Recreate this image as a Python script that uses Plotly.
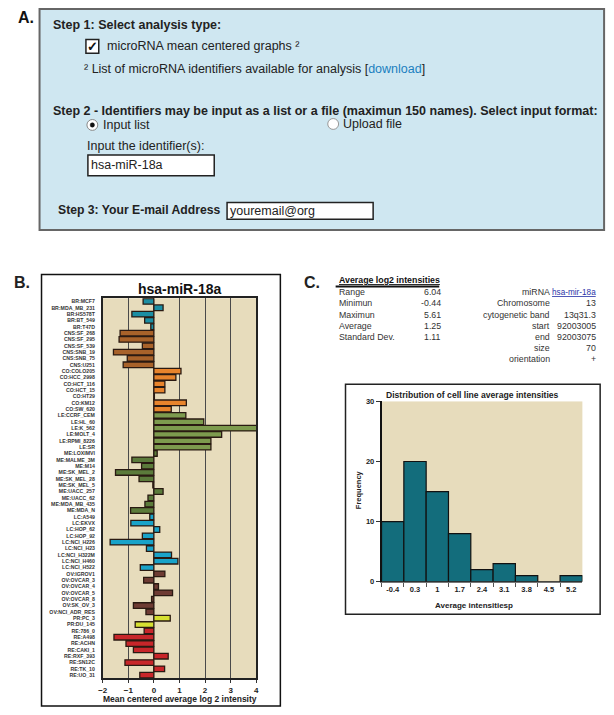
import plotly.graph_objects as go

W, H = 614, 715

# ---------------- data ----------------
cell_lines = [
    "BR:MCF7", "BR:MDA_MB_231", "BR:HS578T", "BR:BT_549", "BR:T47D",
    "CNS:SF_268", "CNS:SF_295", "CNS:SF_539", "CNS:SNB_19", "CNS:SNB_75", "CNS:U251",
    "CO:COLO205", "CO:HCC_2998", "CO:HCT_116", "CO:HCT_15", "CO:HT29", "CO:KM12", "CO:SW_620",
    "LE:CCRF_CEM", "LE:HL_60", "LE:K_562", "LE:MOLT_4", "LE:RPMI_8226", "LE:SR",
    "ME:LOXIMVI", "ME:MALME_3M", "ME:M14", "ME:SK_MEL_2", "ME:SK_MEL_28", "ME:SK_MEL_5",
    "ME:UACC_257", "ME:UACC_62", "ME:MDA_MB_435", "ME:MDA_N",
    "LC:A549", "LC:EKVX", "LC:HOP_62", "LC:HOP_92", "LC:NCI_H226", "LC:NCI_H23",
    "LC:NCI_H322M", "LC:NCI_H460", "LC:NCI_H522",
    "OV:IGROV1", "OV:OVCAR_3", "OV:OVCAR_4", "OV:OVCAR_5", "OV:OVCAR_8", "OV:SK_OV_3", "OV:NCI_ADR_RES",
    "PR:PC_3", "PR:DU_145",
    "RE:786_0", "RE:A498", "RE:ACHN", "RE:CAKI_1", "RE:RXF_393", "RE:SN12C", "RE:TK_10", "RE:UO_31",
]
mean_centered = [
    -0.42, 0.36, -0.86, -0.36, -0.12,
    -1.32, -1.36, -0.45, -1.58, -1.04, -1.20,
    1.06, 0.86, 0.43, 0.43, 0.02, 1.27, 0.68,
    1.25, 1.95, 4.04, 2.65, 2.23, 2.23,
    0.13, -0.86, -0.48, -1.50, -0.58, -0.04,
    0.36, -0.23, -0.35, -0.91,
    -0.16, -0.90, 0.23, -0.45, -1.71, -0.29,
    0.69, 0.94, -0.53,
    0.43, -0.40, 0.18, 0.73, -0.09, -0.80, -0.31,
    0.64, -0.73,
    -0.38, -1.56, -1.09, -0.80, 0.56, -1.13, 0.42, -0.55,
]
group_colors = {
    "BR": "#1b8ea3", "CNS": "#a8622a", "CO": "#e8842c", "LE": "#7d9b4e",
    "ME": "#5b7b3b", "LC": "#19a3c9", "OV": "#6e3b33", "PR": "#d6e031", "RE": "#c8262a",
}

hist_bins = ["-0.4", "0.3", "1", "1.7", "2.4", "3.1", "3.8", "4.5", "5.2"]
hist_freq = [10, 20, 15, 8, 2, 3, 1, 0, 1]

stats_labels = ["Range", "Minimun", "Maximun", "Average", "Standard Dev."]
stats_values = ["6.04", "-0.44", "5.61", "1.25", "1.11"]
info_labels = ["miRNA", "Chromosome", "cytogenetic band", "start", "end", "size", "orientation"]
info_values = ["hsa-mir-18a", "13", "13q31.3", "92003005", "92003075", "70", "+"]

# ---------------- helpers ----------------
def px(x):
    return x / W

def py(y):
    return 1 - y / H

FONT = "Liberation Sans, Arial, sans-serif"
annotations = []
shapes = []

def text(x, y, s, size=12, anchor="left", bold=False, color="#222", yanchor="middle", angle=0):
    # compensate the small inner padding of annotations
    if anchor == "left":
        x -= 3
    elif anchor == "right":
        x += 3
    annotations.append(dict(
        x=px(x), y=py(y), xref="paper", yref="paper", text=s, showarrow=False,
        xanchor=anchor, yanchor=yanchor, textangle=angle,
        font=dict(family=FONT, size=size, color=color, weight="bold" if bold else "normal"),
    ))

def rect(x0, y0, x1, y1, line="#000", lw=1, fill=None, layer="below"):
    d = dict(type="rect", xref="paper", yref="paper",
             x0=px(x0), x1=px(x1), y0=py(y1), y1=py(y0),
             line=dict(color=line, width=lw), layer=layer)
    if fill:
        d["fillcolor"] = fill
    shapes.append(d)

def circle(x0, y0, x1, y1, line="#777", lw=1, fill="white"):
    shapes.append(dict(type="circle", xref="paper", yref="paper",
                       x0=px(x0), x1=px(x1), y0=py(y1), y1=py(y0),
                       line=dict(color=line, width=lw), fillcolor=fill, layer="above"))

# ---------------- panel A ----------------
text(14, 14, "A.", size=16, bold=True, anchor="left", color="#111")
rect(35, 5, 607, 229, line="#666", lw=2, fill="#cfe7f1")
text(50, 21, "Step 1: Select analysis type:", size=12.5, bold=True)
rect(82, 36, 95, 50, line="#222", lw=1.5, fill="white", layer="above")
text(88.5, 43.5, "✓", size=13, bold=True, anchor="center", color="#111")
text(104, 43, "microRNA mean centered graphs ²", size=12.5)
text(81, 66, "² List of microRNA identifiers available for analysis [<span style='color:#1a7fc0'>download</span>]", size=12.5)
text(50, 108, "Step 2 - Identifiers may be input as a list or a file (maximun 150 names). Select input format:", size=12.5, bold=True)
circle(83, 117, 94, 128, line="#888", fill="white")
circle(86.3, 120.3, 90.7, 124.7, line="#111", lw=0.5, fill="#111")
text(100, 123, "Input list", size=12.5)
circle(327, 116, 338, 127, line="#999", fill="white")
text(343, 122, "Upload file", size=12.5)
text(84, 144, "Input the identifier(s):", size=12.5)
rect(84, 153, 212, 174, line="#222", lw=1.5, fill="white", layer="above")
text(88, 163, "hsa-miR-18a", size=12.5)
text(55, 209, "Step 3: Your E-mail Address", size=12.2, bold=True)
rect(225, 201, 373, 218, line="#222", lw=1.5, fill="white", layer="above")
text(229, 210, "youremail@org", size=12.5)

# ---------------- panel B ----------------
text(10, 282, "B.", size=16, bold=True)
rect(37, 274, 279, 711, line="#111", lw=1.5)
text(177, 289, "hsa-miR-18a", size=14, bold=True, anchor="center", color="#111")
text(177, 704, "Mean centered average log 2 intensity", size=8.5, bold=True, anchor="center", color="#222")

bar_colors = [group_colors[c.split(":")[0]] for c in cell_lines]

fig = go.Figure()
fig.add_trace(go.Bar(
    x=mean_centered, y=cell_lines, orientation="h",
    marker=dict(color=bar_colors, line=dict(color="#2a1a12", width=1.3)),
    xaxis="x", yaxis="y", showlegend=False,
))

# ---------------- panel C ----------------
text(304, 282, "C.", size=16, bold=True)
text(339, 280, "<u>Average log2 intensities</u>", size=8.8, bold=True, color="#111")
shapes.append(dict(type="line", xref="paper", yref="paper", x0=px(335), x1=px(440),
                   y0=py(286), y1=py(286), line=dict(color="#111", width=2)))
for i, (lab, val) in enumerate(zip(stats_labels, stats_values)):
    yy = 292 + 11.25 * i
    text(339, yy, lab, size=8.8, color="#333")
    text(441, yy, val, size=8.8, color="#333", anchor="right")
for i, (lab, val) in enumerate(zip(info_labels, info_values)):
    yy = 292 + 11.25 * i
    text(551, yy, lab, size=8.8, color="#333", anchor="right")
    if i == 0:
        text(598, yy, "<u>" + val + "</u>", size=8.2, color="#2a35a8", anchor="right")
    else:
        text(598, yy, val, size=8.8, color="#333", anchor="right")

rect(345, 385, 603, 618, line="#222", lw=1.5)
text(474, 396, "Distribution of cell line average intensities", size=8.6, bold=True, anchor="center", color="#222")
text(358, 492, "Frequency", size=7.5, bold=True, anchor="center", angle=-90, color="#222")
text(475, 609, "Average intensitiesp", size=8, bold=True, anchor="center", color="#222")

fig.add_trace(go.Bar(
    x=hist_bins, y=hist_freq, width=1.0,
    marker=dict(color="#136d7c", line=dict(color="#111", width=1.2)),
    xaxis="x2", yaxis="y2", showlegend=False,
))

TAN = "#e7dcbc"
fig.update_layout(
    width=W, height=H, margin=dict(l=0, r=0, t=0, b=0),
    paper_bgcolor="white", plot_bgcolor=TAN,
    bargap=0.12,
    xaxis=dict(domain=[px(99), px(254.5)], range=[-2, 4], tickvals=[-2, -1, 0, 1, 2, 3, 4],
               showgrid=True, gridcolor="#4a4a4a", gridwidth=1, zeroline=False,
               showline=True, linecolor="#222", linewidth=1.5, mirror=True,
               ticks="outside", ticklen=3, tickcolor="#333",
               tickfont=dict(family=FONT, size=8, weight="bold", color="#222"), anchor="y"),
    yaxis=dict(domain=[py(683), py(298)], type="category", categoryorder="array",
               categoryarray=cell_lines, autorange="reversed",
               showline=True, linecolor="#222", linewidth=1.5, mirror=True,
               ticks="", ticklabelstandoff=5, showgrid=False,
               tickfont=dict(family=FONT, size=5.2, weight="bold", color="#333"), anchor="x"),
    xaxis2=dict(domain=[px(381.5), px(585)], type="category", anchor="y2",
                showline=True, linecolor="#777", linewidth=1, ticks="outside", ticklen=4,
                tickson="boundaries", tickcolor="#555", showgrid=False, tickangle=0,
                tickfont=dict(family=FONT, size=7.5, weight="bold", color="#222")),
    yaxis2=dict(domain=[py(585), py(402.5)], range=[0, 30], tickvals=[0, 10, 20, 30], anchor="x2",
                showline=True, linecolor="#111", linewidth=1.5, ticks="outside", ticklen=4,
                tickcolor="#333", showgrid=False, zeroline=False,
                tickfont=dict(family=FONT, size=7.5, weight="bold", color="#222")),
    annotations=annotations, shapes=shapes,
)

fig.write_html("out.html", config={"displayModeBar": False},
               post_script="document.body.style.margin='0';")
